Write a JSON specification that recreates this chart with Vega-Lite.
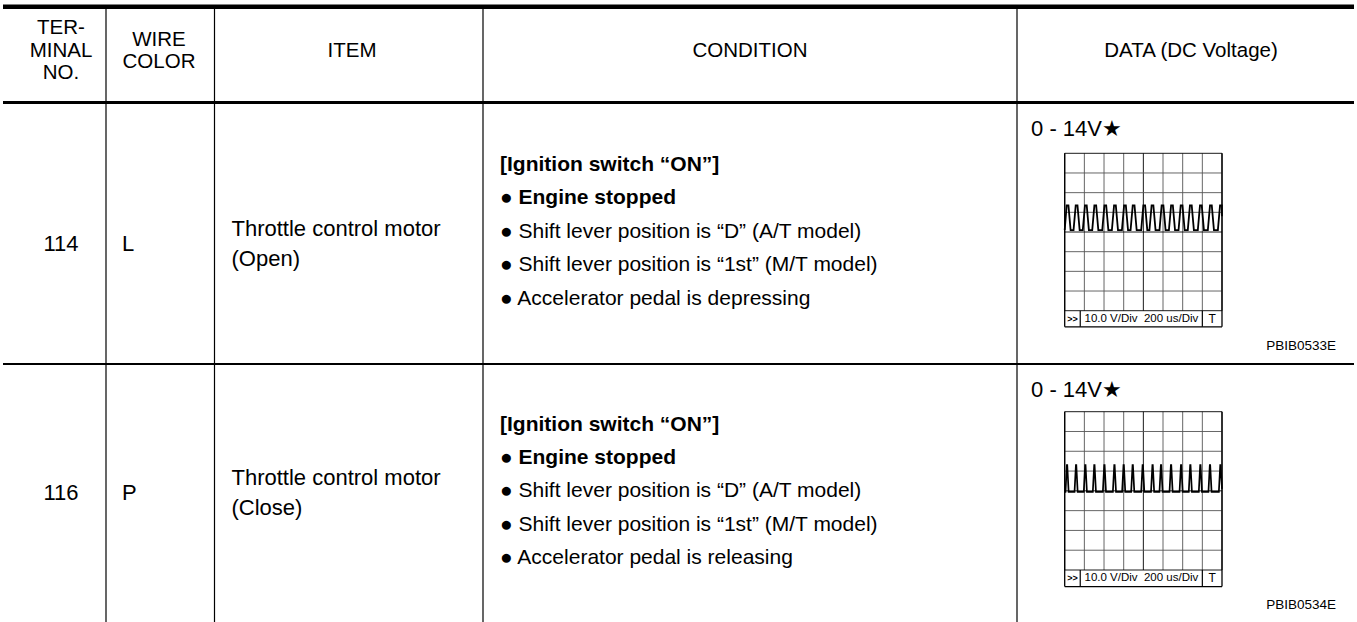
{
  "$schema": "https://vega.github.io/schema/vega-lite/v6.json",
  "width": 1357,
  "height": 622,
  "autosize": {"type": "fit", "contains": "padding"},
  "padding": 0,
  "background": "white",
  "config": {
    "view": {"stroke": null},
    "axis": {"disable": true},
    "text": {"font": "Liberation Sans", "color": "black", "fontSize": 22}
  },
  "datasets": {
    "header": [
      {"col": 0, "text": "TER-\nMINAL\nNO."},
      {"col": 1, "text": "WIRE\nCOLOR"},
      {"col": 2, "text": "ITEM"},
      {"col": 3, "text": "CONDITION"},
      {"col": 4, "text": "DATA (DC Voltage)"}
    ],
    "rows": [
      {"r": 0, "part": "header"},
      {"r": 1, "part": "terminal 114"},
      {"r": 2, "part": "terminal 116"}
    ],
    "cells": [
      {"r": 1, "col": 0, "text": "114"},
      {"r": 1, "col": 1, "text": "L"},
      {"r": 1, "col": 2, "text": "Throttle control motor\n(Open)"},
      {"r": 2, "col": 0, "text": "116"},
      {"r": 2, "col": 1, "text": "P"},
      {"r": 2, "col": 2, "text": "Throttle control motor\n(Close)"}
    ],
    "conditions": [
      {"r": 1, "emphasized": true, "text": "[Ignition switch “ON”]\n● Engine stopped"},
      {"r": 1, "emphasized": false, "text": "● Shift lever position is “D” (A/T model)\n● Shift lever position is “1st” (M/T model)\n● Accelerator pedal is depressing"},
      {"r": 2, "emphasized": true, "text": "[Ignition switch “ON”]\n● Engine stopped"},
      {"r": 2, "emphasized": false, "text": "● Shift lever position is “D” (A/T model)\n● Shift lever position is “1st” (M/T model)\n● Accelerator pedal is releasing"}
    ],
    "scopes": [
      {"r": 1, "range": "0 - 14V★", "mode": ">>", "settings": "10.0 V/Div \u00a0200 us/Div", "trigger": "T", "figure": "PBIB0533E"},
      {"r": 2, "range": "0 - 14V★", "mode": ">>", "settings": "10.0 V/Div \u00a0200 us/Div", "trigger": "T", "figure": "PBIB0534E"}
    ],
    "grid": [
      {"r": 1, "k": 0}, {"r": 1, "k": 1}, {"r": 1, "k": 2}, {"r": 1, "k": 3}, {"r": 1, "k": 4},
      {"r": 1, "k": 5}, {"r": 1, "k": 6}, {"r": 1, "k": 7}, {"r": 1, "k": 8},
      {"r": 2, "k": 0}, {"r": 2, "k": 1}, {"r": 2, "k": 2}, {"r": 2, "k": 3}, {"r": 2, "k": 4},
      {"r": 2, "k": 5}, {"r": 2, "k": 6}, {"r": 2, "k": 7}, {"r": 2, "k": 8}
    ],
    "waves": [
      {"r": 1, "t": 0, "v": 4.1}, {"r": 1, "t": 0.1, "v": 5.35}, {"r": 1, "t": 0.19, "v": 5.35}, {"r": 1, "t": 0.3, "v": 4.1},
      {"r": 1, "t": 0.45, "v": 4.1}, {"r": 1, "t": 0.56, "v": 5.35}, {"r": 1, "t": 0.65, "v": 5.35}, {"r": 1, "t": 0.76, "v": 4.1},
      {"r": 1, "t": 0.92, "v": 4.1}, {"r": 1, "t": 1.03, "v": 5.35}, {"r": 1, "t": 1.12, "v": 5.35}, {"r": 1, "t": 1.23, "v": 4.1},
      {"r": 1, "t": 1.4, "v": 4.1}, {"r": 1, "t": 1.51, "v": 5.35}, {"r": 1, "t": 1.6, "v": 5.35}, {"r": 1, "t": 1.71, "v": 4.1},
      {"r": 1, "t": 1.91, "v": 4.1}, {"r": 1, "t": 2.02, "v": 5.35}, {"r": 1, "t": 2.11, "v": 5.35}, {"r": 1, "t": 2.22, "v": 4.1},
      {"r": 1, "t": 2.4, "v": 4.1}, {"r": 1, "t": 2.51, "v": 5.35}, {"r": 1, "t": 2.6, "v": 5.35}, {"r": 1, "t": 2.71, "v": 4.1},
      {"r": 1, "t": 2.91, "v": 4.1}, {"r": 1, "t": 3.02, "v": 5.35}, {"r": 1, "t": 3.11, "v": 5.35}, {"r": 1, "t": 3.22, "v": 4.1},
      {"r": 1, "t": 3.35, "v": 4.1}, {"r": 1, "t": 3.46, "v": 5.35}, {"r": 1, "t": 3.55, "v": 5.35}, {"r": 1, "t": 3.66, "v": 4.1},
      {"r": 1, "t": 3.89, "v": 4.1}, {"r": 1, "t": 4.0, "v": 5.35}, {"r": 1, "t": 4.09, "v": 5.35}, {"r": 1, "t": 4.2, "v": 4.1},
      {"r": 1, "t": 4.31, "v": 4.1}, {"r": 1, "t": 4.42, "v": 5.35}, {"r": 1, "t": 4.51, "v": 5.35}, {"r": 1, "t": 4.62, "v": 4.1},
      {"r": 1, "t": 4.82, "v": 4.1}, {"r": 1, "t": 4.93, "v": 5.35}, {"r": 1, "t": 5.02, "v": 5.35}, {"r": 1, "t": 5.13, "v": 4.1},
      {"r": 1, "t": 5.3, "v": 4.1}, {"r": 1, "t": 5.41, "v": 5.35}, {"r": 1, "t": 5.5, "v": 5.35}, {"r": 1, "t": 5.61, "v": 4.1},
      {"r": 1, "t": 5.79, "v": 4.1}, {"r": 1, "t": 5.9, "v": 5.35}, {"r": 1, "t": 5.99, "v": 5.35}, {"r": 1, "t": 6.1, "v": 4.1},
      {"r": 1, "t": 6.26, "v": 4.1}, {"r": 1, "t": 6.37, "v": 5.35}, {"r": 1, "t": 6.46, "v": 5.35}, {"r": 1, "t": 6.57, "v": 4.1},
      {"r": 1, "t": 6.77, "v": 4.1}, {"r": 1, "t": 6.88, "v": 5.35}, {"r": 1, "t": 6.97, "v": 5.35}, {"r": 1, "t": 7.08, "v": 4.1},
      {"r": 1, "t": 7.28, "v": 4.1}, {"r": 1, "t": 7.39, "v": 5.35}, {"r": 1, "t": 7.48, "v": 5.35}, {"r": 1, "t": 7.59, "v": 4.1},
      {"r": 1, "t": 7.79, "v": 4.1}, {"r": 1, "t": 7.9, "v": 5.35}, {"r": 1, "t": 7.99, "v": 5.35}, {"r": 1, "t": 8.0, "v": 4.8},
      {"r": 2, "t": 0, "v": 3.95}, {"r": 2, "t": 0.04, "v": 3.95}, {"r": 2, "t": 0.11, "v": 5.3}, {"r": 2, "t": 0.13, "v": 5.3}, {"r": 2, "t": 0.2, "v": 3.95},
      {"r": 2, "t": 0.5, "v": 3.95}, {"r": 2, "t": 0.57, "v": 5.3}, {"r": 2, "t": 0.59, "v": 5.3}, {"r": 2, "t": 0.66, "v": 3.95},
      {"r": 2, "t": 0.97, "v": 3.95}, {"r": 2, "t": 1.04, "v": 5.3}, {"r": 2, "t": 1.06, "v": 5.3}, {"r": 2, "t": 1.13, "v": 3.95},
      {"r": 2, "t": 1.43, "v": 3.95}, {"r": 2, "t": 1.5, "v": 5.3}, {"r": 2, "t": 1.52, "v": 5.3}, {"r": 2, "t": 1.59, "v": 3.95},
      {"r": 2, "t": 1.94, "v": 3.95}, {"r": 2, "t": 2.01, "v": 5.3}, {"r": 2, "t": 2.03, "v": 5.3}, {"r": 2, "t": 2.1, "v": 3.95},
      {"r": 2, "t": 2.45, "v": 3.95}, {"r": 2, "t": 2.52, "v": 5.3}, {"r": 2, "t": 2.54, "v": 5.3}, {"r": 2, "t": 2.61, "v": 3.95},
      {"r": 2, "t": 2.92, "v": 3.95}, {"r": 2, "t": 2.99, "v": 5.3}, {"r": 2, "t": 3.01, "v": 5.3}, {"r": 2, "t": 3.08, "v": 3.95},
      {"r": 2, "t": 3.38, "v": 3.95}, {"r": 2, "t": 3.45, "v": 5.3}, {"r": 2, "t": 3.47, "v": 5.3}, {"r": 2, "t": 3.54, "v": 3.95},
      {"r": 2, "t": 3.89, "v": 3.95}, {"r": 2, "t": 3.96, "v": 5.3}, {"r": 2, "t": 3.98, "v": 5.3}, {"r": 2, "t": 4.05, "v": 3.95},
      {"r": 2, "t": 4.39, "v": 3.95}, {"r": 2, "t": 4.46, "v": 5.3}, {"r": 2, "t": 4.48, "v": 5.3}, {"r": 2, "t": 4.55, "v": 3.95},
      {"r": 2, "t": 4.82, "v": 3.95}, {"r": 2, "t": 4.89, "v": 5.3}, {"r": 2, "t": 4.91, "v": 5.3}, {"r": 2, "t": 4.98, "v": 3.95},
      {"r": 2, "t": 5.33, "v": 3.95}, {"r": 2, "t": 5.4, "v": 5.3}, {"r": 2, "t": 5.42, "v": 5.3}, {"r": 2, "t": 5.49, "v": 3.95},
      {"r": 2, "t": 5.84, "v": 3.95}, {"r": 2, "t": 5.91, "v": 5.3}, {"r": 2, "t": 5.93, "v": 5.3}, {"r": 2, "t": 6.0, "v": 3.95},
      {"r": 2, "t": 6.31, "v": 3.95}, {"r": 2, "t": 6.38, "v": 5.3}, {"r": 2, "t": 6.4, "v": 5.3}, {"r": 2, "t": 6.47, "v": 3.95},
      {"r": 2, "t": 6.82, "v": 3.95}, {"r": 2, "t": 6.89, "v": 5.3}, {"r": 2, "t": 6.91, "v": 5.3}, {"r": 2, "t": 6.98, "v": 3.95},
      {"r": 2, "t": 7.31, "v": 3.95}, {"r": 2, "t": 7.38, "v": 5.3}, {"r": 2, "t": 7.4, "v": 5.3}, {"r": 2, "t": 7.47, "v": 3.95},
      {"r": 2, "t": 7.84, "v": 3.95}, {"r": 2, "t": 7.91, "v": 5.3}, {"r": 2, "t": 7.93, "v": 5.3}, {"r": 2, "t": 8.0, "v": 4.1}
    ]
  },
  "layer": [
    {
      "data": {"name": "header"},
      "transform": [{"filter": "datum.col > 0"}],
      "mark": {"type": "rule", "color": "black", "strokeWidth": 1.2},
      "encoding": {
        "x": {"field": "col", "type": "quantitative", "scale": {"domain": [0, 1, 2, 3, 4], "range": [0, 103, 211.5, 480, 1014]}, "axis": null},
        "y": {"datum": 0, "type": "quantitative", "scale": {"domain": [0, 1, 2, 3], "range": [7, 102.5, 364, 622]}, "axis": null},
        "y2": {"datum": 3}
      }
    },
    {
      "data": {"name": "rows"},
      "mark": {"type": "rule", "color": "black"},
      "encoding": {
        "y": {"field": "r", "type": "quantitative", "scale": {"domain": [0, 1, 2], "range": [6.8, 102.5, 364]}, "axis": null},
        "strokeWidth": {"field": "r", "type": "ordinal", "scale": {"domain": [0, 1, 2], "range": [4.4, 2, 1.5]}, "legend": null}
      }
    },
    {
      "data": {"name": "header"},
      "mark": {"type": "text", "align": "center", "baseline": "middle", "lineBreak": "\n", "lineHeight": 22.5, "fontSize": 20.5},
      "encoding": {
        "x": {"field": "col", "type": "quantitative", "scale": {"domain": [0, 1, 2, 3, 4], "range": [58, 156, 349, 747, 1188]}, "axis": null},
        "y": {"field": "col", "type": "quantitative", "scale": {"domain": [0, 1, 2, 3, 4], "range": [28, 39.5, 50.5, 50.5, 50.5]}, "axis": null},
        "text": {"field": "text"}
      }
    },
    {
      "data": {"name": "cells"},
      "transform": [{"filter": "datum.col === 0"}],
      "mark": {"type": "text", "align": "center", "baseline": "middle", "fontSize": 22},
      "encoding": {
        "x": {"field": "col", "type": "quantitative", "scale": {"domain": [0, 1, 2, 3, 4], "range": [58, 155, 349, 747, 1188]}, "axis": null},
        "y": {"field": "r", "type": "quantitative", "scale": {"domain": [1, 2], "range": [244, 493]}, "axis": null},
        "text": {"field": "text"}
      }
    },
    {
      "data": {"name": "cells"},
      "transform": [{"filter": "datum.col === 1"}],
      "mark": {"type": "text", "align": "left", "baseline": "middle", "fontSize": 22},
      "encoding": {
        "x": {"field": "col", "type": "quantitative", "scale": {"domain": [1, 2, 3, 4], "range": [119, 227.5, 497, 1028]}, "axis": null},
        "y": {"field": "r", "type": "quantitative", "scale": {"domain": [1, 2], "range": [244, 493]}, "axis": null},
        "text": {"field": "text"}
      }
    },
    {
      "data": {"name": "cells"},
      "transform": [{"filter": "datum.col === 2"}],
      "mark": {"type": "text", "align": "left", "baseline": "middle", "lineBreak": "\n", "lineHeight": 30, "fontSize": 22},
      "encoding": {
        "x": {"field": "col", "type": "quantitative", "scale": {"domain": [1, 2, 3, 4], "range": [119, 228.5, 497, 1028]}, "axis": null},
        "y": {"field": "r", "type": "quantitative", "scale": {"domain": [1, 2], "range": [229, 478]}, "axis": null},
        "text": {"field": "text"}
      }
    },
    {
      "data": {"name": "conditions"},
      "transform": [{"filter": "datum.emphasized"}],
      "mark": {"type": "text", "align": "left", "baseline": "middle", "lineBreak": "\n", "lineHeight": 33.4, "fontSize": 21, "fontWeight": "bold"},
      "encoding": {
        "x": {"datum": 3, "type": "quantitative", "scale": {"domain": [1, 2, 3, 4], "range": [119, 227.5, 497, 1028]}, "axis": null},
        "y": {"field": "r", "type": "quantitative", "scale": {"domain": [1, 2], "range": [165, 424.5]}, "axis": null},
        "text": {"field": "text"}
      }
    },
    {
      "data": {"name": "conditions"},
      "transform": [{"filter": "!datum.emphasized"}],
      "mark": {"type": "text", "align": "left", "baseline": "middle", "lineBreak": "\n", "lineHeight": 33.4, "fontSize": 21},
      "encoding": {
        "x": {"datum": 3, "type": "quantitative", "scale": {"domain": [1, 2, 3, 4], "range": [119, 227.5, 497, 1028]}, "axis": null},
        "y": {"field": "r", "type": "quantitative", "scale": {"domain": [1, 2], "range": [231.8, 491.3]}, "axis": null},
        "text": {"field": "text"}
      }
    },
    {
      "layer": [
        {
          "data": {"name": "grid"},
          "transform": [{"filter": "datum.r === 1"}],
          "mark": {"type": "rule", "strokeWidth": 0.9},
          "encoding": {
            "x": {"field": "k", "type": "quantitative", "scale": {"domain": [0, 8], "range": [1061.7, 1219]}, "axis": null},
            "y": {"datum": 0, "type": "quantitative", "scale": {"domain": [0, 8], "range": [310.7, 153.3]}, "axis": null},
            "y2": {"datum": 8},
            "color": {"condition": {"test": "datum.k % 4 === 0", "value": "black"}, "value": "#555555"}
          }
        },
        {
          "data": {"name": "grid"},
          "transform": [{"filter": "datum.r === 1"}],
          "mark": {"type": "rule", "strokeWidth": 0.9},
          "encoding": {
            "x": {"datum": 0, "type": "quantitative", "scale": {"domain": [0, 8], "range": [1061.7, 1219]}, "axis": null},
            "x2": {"datum": 8},
            "y": {"field": "k", "type": "quantitative", "scale": {"domain": [0, 8], "range": [310.7, 153.3]}, "axis": null},
            "color": {"condition": {"test": "datum.k % 4 === 0", "value": "black"}, "value": "#555555"}
          }
        },
        {
          "data": {"name": "grid"},
          "transform": [{"filter": "datum.r === 1 && (datum.k === 0 || datum.k === 8)"}],
          "mark": {"type": "rule", "strokeWidth": 1.3, "color": "black"},
          "encoding": {
            "x": {"field": "k", "type": "quantitative", "scale": {"domain": [0, 8], "range": [1061.7, 1219]}, "axis": null},
            "y": {"datum": -0.82, "type": "quantitative", "scale": {"domain": [0, 8], "range": [310.7, 153.3]}, "axis": null},
            "y2": {"datum": 8}
          }
        },
        {
          "data": {"name": "scopes"},
          "transform": [{"filter": "datum.r === 1"}],
          "mark": {"type": "rule", "strokeWidth": 1.3, "color": "black"},
          "encoding": {
            "x": {"datum": 0, "type": "quantitative", "scale": {"domain": [0, 8], "range": [1061.7, 1219]}, "axis": null},
            "x2": {"datum": 8},
            "y": {"datum": -0.82, "type": "quantitative", "scale": {"domain": [0, 8], "range": [310.7, 153.3]}, "axis": null}
          }
        },
        {
          "data": {"name": "scopes"},
          "transform": [{"filter": "datum.r === 1"}],
          "mark": {"type": "rule", "strokeWidth": 1.2, "color": "black"},
          "encoding": {
            "x": {"datum": 0.79, "type": "quantitative", "scale": {"domain": [0, 8], "range": [1061.7, 1219]}, "axis": null},
            "y": {"datum": -0.82, "type": "quantitative", "scale": {"domain": [0, 8], "range": [310.7, 153.3]}, "axis": null},
            "y2": {"datum": 0}
          }
        },
        {
          "data": {"name": "scopes"},
          "transform": [{"filter": "datum.r === 1"}],
          "mark": {"type": "rule", "strokeWidth": 1.2, "color": "black"},
          "encoding": {
            "x": {"datum": 7.0, "type": "quantitative", "scale": {"domain": [0, 8], "range": [1061.7, 1219]}, "axis": null},
            "y": {"datum": -0.82, "type": "quantitative", "scale": {"domain": [0, 8], "range": [310.7, 153.3]}, "axis": null},
            "y2": {"datum": 0}
          }
        },
        {
          "data": {"name": "scopes"},
          "transform": [{"filter": "datum.r === 1"}],
          "mark": {"type": "text", "align": "center", "baseline": "middle", "fontSize": 11.5},
          "encoding": {
            "x": {"datum": 3.9, "type": "quantitative", "scale": {"domain": [0, 8], "range": [1061.7, 1219]}, "axis": null},
            "y": {"datum": -0.41, "type": "quantitative", "scale": {"domain": [0, 8], "range": [310.7, 153.3]}, "axis": null},
            "text": {"field": "settings"}
          }
        },
        {
          "data": {"name": "scopes"},
          "transform": [{"filter": "datum.r === 1"}],
          "mark": {"type": "text", "align": "center", "baseline": "middle", "fontSize": 9, "fontWeight": "bold"},
          "encoding": {
            "x": {"datum": 0.395, "type": "quantitative", "scale": {"domain": [0, 8], "range": [1061.7, 1219]}, "axis": null},
            "y": {"datum": -0.41, "type": "quantitative", "scale": {"domain": [0, 8], "range": [310.7, 153.3]}, "axis": null},
            "text": {"field": "mode"}
          }
        },
        {
          "data": {"name": "scopes"},
          "transform": [{"filter": "datum.r === 1"}],
          "mark": {"type": "text", "align": "center", "baseline": "middle", "fontSize": 12},
          "encoding": {
            "x": {"datum": 7.5, "type": "quantitative", "scale": {"domain": [0, 8], "range": [1061.7, 1219]}, "axis": null},
            "y": {"datum": -0.41, "type": "quantitative", "scale": {"domain": [0, 8], "range": [310.7, 153.3]}, "axis": null},
            "text": {"field": "trigger"}
          }
        },
        {
          "data": {"name": "scopes"},
          "transform": [{"filter": "datum.r === 1"}],
          "mark": {"type": "text", "align": "left", "baseline": "middle", "fontSize": 22},
          "encoding": {
            "x": {"datum": -1.71, "type": "quantitative", "scale": {"domain": [0, 8], "range": [1061.7, 1219]}, "axis": null},
            "y": {"datum": 9.25, "type": "quantitative", "scale": {"domain": [0, 8], "range": [310.7, 153.3]}, "axis": null},
            "text": {"field": "range"}
          }
        },
        {
          "data": {"name": "scopes"},
          "transform": [{"filter": "datum.r === 1"}],
          "mark": {"type": "text", "align": "right", "baseline": "middle", "fontSize": 13.5},
          "encoding": {
            "x": {"datum": 13.8, "type": "quantitative", "scale": {"domain": [0, 8], "range": [1061.7, 1219]}, "axis": null},
            "y": {"datum": -1.77, "type": "quantitative", "scale": {"domain": [0, 8], "range": [310.7, 153.3]}, "axis": null},
            "text": {"field": "figure"}
          }
        },
        {
          "data": {"name": "waves"},
          "transform": [{"filter": "datum.r === 1"}],
          "mark": {"type": "line", "color": "black", "strokeWidth": 1.8},
          "encoding": {
            "x": {"field": "t", "type": "quantitative", "scale": {"domain": [0, 8], "range": [1061.7, 1219]}, "axis": null},
            "y": {"field": "v", "type": "quantitative", "scale": {"domain": [0, 8], "range": [310.7, 153.3]}, "axis": null}
          }
        }
      ]
    },
    {
      "layer": [
        {
          "data": {"name": "grid"},
          "transform": [{"filter": "datum.r === 2"}],
          "mark": {"type": "rule", "strokeWidth": 0.9},
          "encoding": {
            "x": {"field": "k", "type": "quantitative", "scale": {"domain": [0, 8], "range": [1061.7, 1219]}, "axis": null},
            "y": {"datum": 0, "type": "quantitative", "scale": {"domain": [0, 8], "range": [570, 411.7]}, "axis": null},
            "y2": {"datum": 8},
            "color": {"condition": {"test": "datum.k % 4 === 0", "value": "black"}, "value": "#555555"}
          }
        },
        {
          "data": {"name": "grid"},
          "transform": [{"filter": "datum.r === 2"}],
          "mark": {"type": "rule", "strokeWidth": 0.9},
          "encoding": {
            "x": {"datum": 0, "type": "quantitative", "scale": {"domain": [0, 8], "range": [1061.7, 1219]}, "axis": null},
            "x2": {"datum": 8},
            "y": {"field": "k", "type": "quantitative", "scale": {"domain": [0, 8], "range": [570, 411.7]}, "axis": null},
            "color": {"condition": {"test": "datum.k % 4 === 0", "value": "black"}, "value": "#555555"}
          }
        },
        {
          "data": {"name": "grid"},
          "transform": [{"filter": "datum.r === 2 && (datum.k === 0 || datum.k === 8)"}],
          "mark": {"type": "rule", "strokeWidth": 1.3, "color": "black"},
          "encoding": {
            "x": {"field": "k", "type": "quantitative", "scale": {"domain": [0, 8], "range": [1061.7, 1219]}, "axis": null},
            "y": {"datum": -0.84, "type": "quantitative", "scale": {"domain": [0, 8], "range": [570, 411.7]}, "axis": null},
            "y2": {"datum": 8}
          }
        },
        {
          "data": {"name": "scopes"},
          "transform": [{"filter": "datum.r === 2"}],
          "mark": {"type": "rule", "strokeWidth": 1.3, "color": "black"},
          "encoding": {
            "x": {"datum": 0, "type": "quantitative", "scale": {"domain": [0, 8], "range": [1061.7, 1219]}, "axis": null},
            "x2": {"datum": 8},
            "y": {"datum": -0.84, "type": "quantitative", "scale": {"domain": [0, 8], "range": [570, 411.7]}, "axis": null}
          }
        },
        {
          "data": {"name": "scopes"},
          "transform": [{"filter": "datum.r === 2"}],
          "mark": {"type": "rule", "strokeWidth": 1.2, "color": "black"},
          "encoding": {
            "x": {"datum": 0.79, "type": "quantitative", "scale": {"domain": [0, 8], "range": [1061.7, 1219]}, "axis": null},
            "y": {"datum": -0.84, "type": "quantitative", "scale": {"domain": [0, 8], "range": [570, 411.7]}, "axis": null},
            "y2": {"datum": 0}
          }
        },
        {
          "data": {"name": "scopes"},
          "transform": [{"filter": "datum.r === 2"}],
          "mark": {"type": "rule", "strokeWidth": 1.2, "color": "black"},
          "encoding": {
            "x": {"datum": 7.0, "type": "quantitative", "scale": {"domain": [0, 8], "range": [1061.7, 1219]}, "axis": null},
            "y": {"datum": -0.84, "type": "quantitative", "scale": {"domain": [0, 8], "range": [570, 411.7]}, "axis": null},
            "y2": {"datum": 0}
          }
        },
        {
          "data": {"name": "scopes"},
          "transform": [{"filter": "datum.r === 2"}],
          "mark": {"type": "text", "align": "center", "baseline": "middle", "fontSize": 11.5},
          "encoding": {
            "x": {"datum": 3.9, "type": "quantitative", "scale": {"domain": [0, 8], "range": [1061.7, 1219]}, "axis": null},
            "y": {"datum": -0.42, "type": "quantitative", "scale": {"domain": [0, 8], "range": [570, 411.7]}, "axis": null},
            "text": {"field": "settings"}
          }
        },
        {
          "data": {"name": "scopes"},
          "transform": [{"filter": "datum.r === 2"}],
          "mark": {"type": "text", "align": "center", "baseline": "middle", "fontSize": 9, "fontWeight": "bold"},
          "encoding": {
            "x": {"datum": 0.395, "type": "quantitative", "scale": {"domain": [0, 8], "range": [1061.7, 1219]}, "axis": null},
            "y": {"datum": -0.42, "type": "quantitative", "scale": {"domain": [0, 8], "range": [570, 411.7]}, "axis": null},
            "text": {"field": "mode"}
          }
        },
        {
          "data": {"name": "scopes"},
          "transform": [{"filter": "datum.r === 2"}],
          "mark": {"type": "text", "align": "center", "baseline": "middle", "fontSize": 12},
          "encoding": {
            "x": {"datum": 7.5, "type": "quantitative", "scale": {"domain": [0, 8], "range": [1061.7, 1219]}, "axis": null},
            "y": {"datum": -0.42, "type": "quantitative", "scale": {"domain": [0, 8], "range": [570, 411.7]}, "axis": null},
            "text": {"field": "trigger"}
          }
        },
        {
          "data": {"name": "scopes"},
          "transform": [{"filter": "datum.r === 2"}],
          "mark": {"type": "text", "align": "left", "baseline": "middle", "fontSize": 22},
          "encoding": {
            "x": {"datum": -1.71, "type": "quantitative", "scale": {"domain": [0, 8], "range": [1061.7, 1219]}, "axis": null},
            "y": {"datum": 9.1, "type": "quantitative", "scale": {"domain": [0, 8], "range": [570, 411.7]}, "axis": null},
            "text": {"field": "range"}
          }
        },
        {
          "data": {"name": "scopes"},
          "transform": [{"filter": "datum.r === 2"}],
          "mark": {"type": "text", "align": "right", "baseline": "middle", "fontSize": 13.5},
          "encoding": {
            "x": {"datum": 13.8, "type": "quantitative", "scale": {"domain": [0, 8], "range": [1061.7, 1219]}, "axis": null},
            "y": {"datum": -1.77, "type": "quantitative", "scale": {"domain": [0, 8], "range": [570, 411.7]}, "axis": null},
            "text": {"field": "figure"}
          }
        },
        {
          "data": {"name": "waves"},
          "transform": [{"filter": "datum.r === 2"}],
          "mark": {"type": "line", "color": "black", "strokeWidth": 1.7},
          "encoding": {
            "x": {"field": "t", "type": "quantitative", "scale": {"domain": [0, 8], "range": [1061.7, 1219]}, "axis": null},
            "y": {"field": "v", "type": "quantitative", "scale": {"domain": [0, 8], "range": [570, 411.7]}, "axis": null}
          }
        }
      ]
    }
  ],
  "resolve": {"scale": {"x": "independent", "y": "independent", "strokeWidth": "independent", "color": "independent"}}
}
